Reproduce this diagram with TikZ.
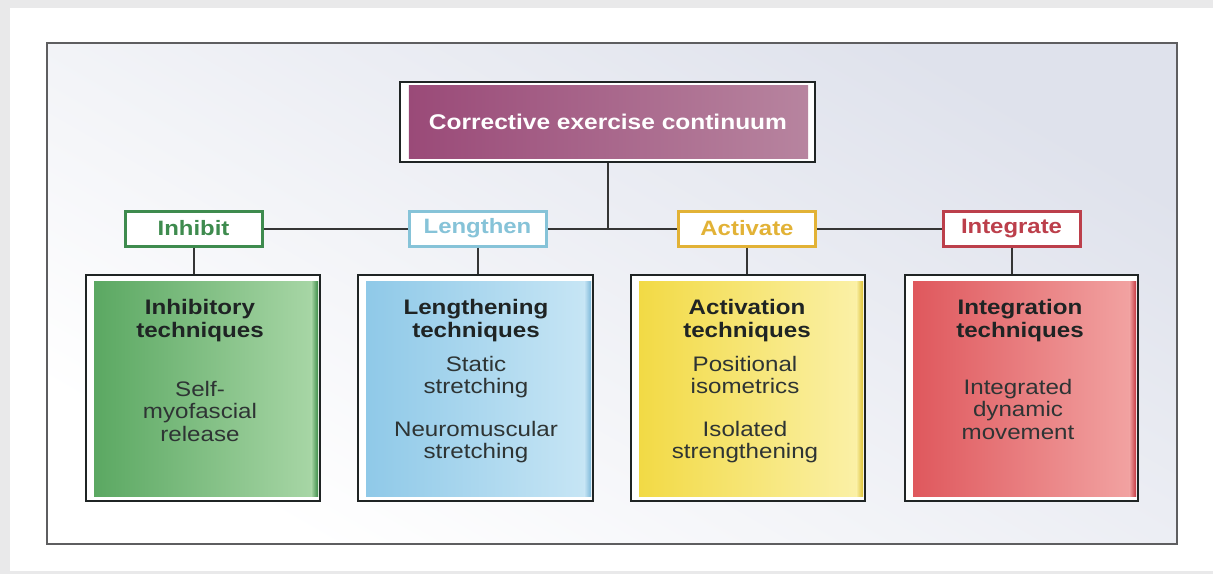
\documentclass[tikz,border=0pt]{standalone}
\usepackage{fontspec}
\setmainfont{Liberation Sans}[FakeStretch=1.15]
\usetikzlibrary{calc}
\definecolor{pagegray}{HTML}{E9E9EA}
\definecolor{framegray}{HTML}{5E5E60}
\definecolor{framefill}{HTML}{DFE2EC}
\definecolor{linegray}{HTML}{353535}
\definecolor{purpA}{HTML}{9A4A78}
\definecolor{purpB}{HTML}{B7849F}
\definecolor{grnA}{HTML}{5BA862}
\definecolor{grnB}{HTML}{A9D7A7}
\definecolor{grnS}{HTML}{3D8C48}
\definecolor{grnT}{HTML}{3E8B4E}
\definecolor{bluA}{HTML}{8FC9E8}
\definecolor{bluB}{HTML}{C8E6F5}
\definecolor{bluS}{HTML}{7DB8D9}
\definecolor{bluT}{HTML}{86C3D8}
\definecolor{yelA}{HTML}{F2DA45}
\definecolor{yelB}{HTML}{FBF1A9}
\definecolor{yelS}{HTML}{DDC133}
\definecolor{yelT}{HTML}{E2B236}
\definecolor{redA}{HTML}{DF585D}
\definecolor{redB}{HTML}{F2A4A3}
\definecolor{redS}{HTML}{C63A44}
\definecolor{redT}{HTML}{BC3F4B}
\definecolor{ink}{HTML}{1F2424}
\definecolor{bodyink}{HTML}{2E3434}
\begin{document}
\begin{tikzpicture}[x=1pt,y=-1pt,
  conn/.style={draw=linegray,line width=2pt},
  topbox/.style={draw=ink,line width=2.2pt,fill=white,minimum width=415pt,minimum height=80pt,inner sep=0pt},
  lab/.style={draw=#1,line width=3pt,fill=white,minimum width=137pt,minimum height=35pt,inner sep=0pt,
    text=#1,font=\fontsize{20.8}{23}\selectfont\bfseries},
  bigbox/.style={draw=ink,line width=2pt,fill=white,minimum height=226pt,inner sep=0pt},
  ttl/.style={anchor=north,inner sep=0pt,align=center,text=ink,font=\fontsize{21}{23}\selectfont\bfseries},
  bdy/.style={anchor=north,inner sep=0pt,align=center,text=bodyink,font=\fontsize{21}{22.5}\selectfont}
]
\useasboundingbox (0,0) rectangle (1213,574);
% page background
\fill[pagegray] (0,0) rectangle (1213,574);
\fill[white] (10,8) rectangle (1213,571);
% inner frame
\shade[top color=white,bottom color=framefill,shading angle=150] (47,43) rectangle (1177,544);
\draw[framegray,line width=2pt] (47,43) rectangle (1177,544);

% top box
\node[topbox] (top) at (607.5,122) {};
\shade[left color=purpA,right color=purpB] ($(top.north west)+(10,5)$) rectangle ($(top.south east)+(-8,-5)$);
\node[inner sep=0pt,text=white,font=\fontsize{21.3}{24}\selectfont\bfseries] (toptxt) at (608,122) {Corrective exercise continuum};

% small label boxes
\node[lab=grnT] (s1) at (193.5,228.5) {Inhibit};
\node[lab=bluT] (s2) at (477.5,228.5) {Lengthen};
\node[lab=yelT] (s3) at (747,228.5) {Activate};
\node[lab=redT] (s4) at (1011.5,228.5) {Integrate};

% connectors
\coordinate (hub) at (top.south |- s1.east);
\draw[conn] (top.south) -- (hub);
\draw[conn] (s1.east) -- (s2.west);
\draw[conn] (s2.east) -- (s3.west);
\draw[conn] (s3.east) -- (s4.west);

% big boxes
\node[bigbox,minimum width=234pt] (b1) at (203,388) {};
\node[bigbox,minimum width=235pt] (b2) at (475.5,388) {};
\node[bigbox,minimum width=234pt] (b3) at (748,388) {};
\node[bigbox,minimum width=233pt] (b4) at (1021.5,388) {};

\draw[conn] (s1.south) -- (s1.south |- b1.north);
\draw[conn] (s2.south) -- (s2.south |- b2.north);
\draw[conn] (s3.south) -- (s3.south |- b3.north);
\draw[conn] (s4.south) -- (s4.south |- b4.north);

% inner fills
\foreach \b/\ca/\cb/\cs in {b1/grnA/grnB/grnS, b2/bluA/bluB/bluS, b3/yelA/yelB/yelS, b4/redA/redB/redS}{
  \shade[left color=\ca,right color=\cb] ($(\b.north west)+(9,7)$) rectangle ($(\b.south east)+(-3,-6)$);
  \shade[left color=\cb,right color=\cs] ($(\b.north east)+(-10,7)$) rectangle ($(\b.south east)+(-3,-6)$);
}

% texts
\node[ttl] (t1) at (200,299) {Inhibitory\\techniques};
\node[bdy] (d1) at (200,381) {Self-\\myofascial\\release};

\node[ttl] (t2) at (476,299) {Lengthening\\techniques};
\node[bdy] (d2a) at (476,356) {Static\\stretching};
\node[bdy] (d2b) at (476,421) {Neuromuscular\\stretching};

\node[ttl] (t3) at (747,299) {Activation\\techniques};
\node[bdy] (d3a) at (745,356) {Positional\\isometrics};
\node[bdy] (d3b) at (745,421) {Isolated\\strengthening};

\node[ttl] (t4) at (1020,299) {Integration\\techniques};
\node[bdy] (d4) at (1018,379) {Integrated\\dynamic\\movement};
\end{tikzpicture}
\end{document}
